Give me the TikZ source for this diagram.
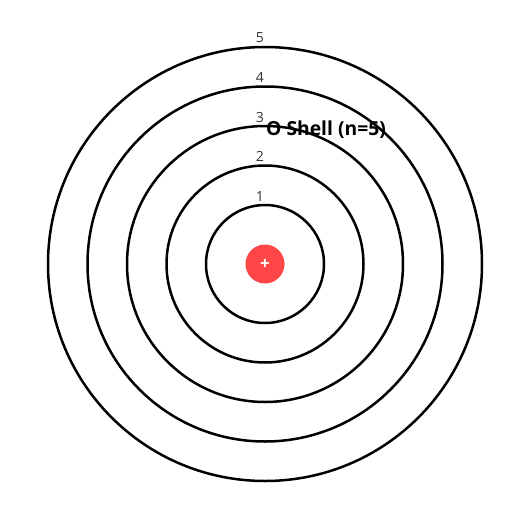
\documentclass[tikz,border=0pt]{standalone}
\usepackage{fontspec}
\setmainfont{Open Sans}
\usepackage{tikz}

\definecolor{nucleusred}{HTML}{FF4646}
\definecolor{labelgray}{HTML}{333333}

\begin{document}
\begin{tikzpicture}[x=1pt,y=-1pt,
	shell/.style={draw=black, line width=2.5pt},
	shelllabel/.style={labelgray, font=\fontsize{14}{14}\selectfont, inner sep=0pt}]
	\useasboundingbox (0,0) rectangle (512,512);
	% the shells, n = 1..5
	\foreach \n in {1,...,5} {
		\pgfmathsetmacro{\r}{59+39.5*(\n-1)}
		\draw[shell] (265,264) circle (\r);
		\node[shelllabel] (lab\n) at (260,{264-\r-9}) {\n};
	}
	% nucleus
	\fill[nucleusred] (265,264) circle (19.5);
	\node[white, font=\bfseries\fontsize{17}{17}\selectfont, inner sep=0pt] (nucleus) at (265,264) {+};
	\node[font=\bfseries\fontsize{19.3}{19.3}\selectfont, inner sep=0pt] (title) at (326,130) {O Shell (n=5)};
\end{tikzpicture}
\end{document}
